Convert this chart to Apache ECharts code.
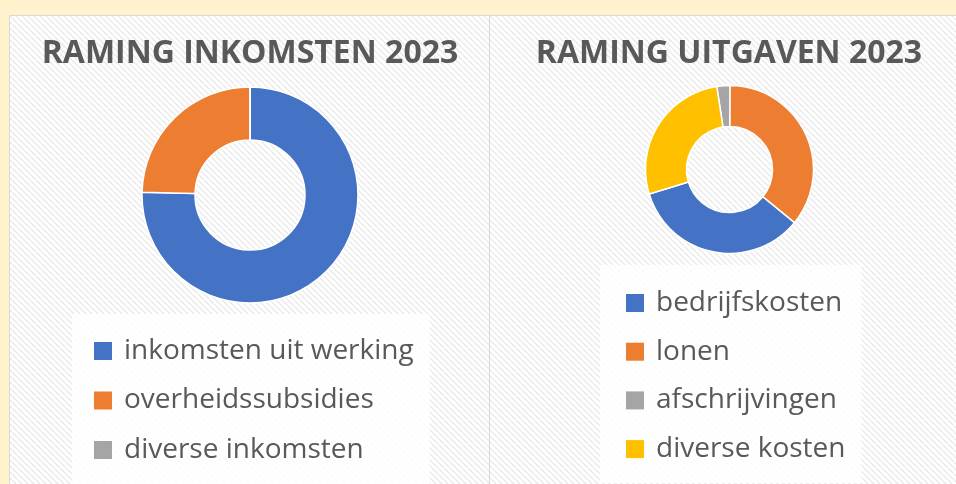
<!DOCTYPE html>
<html>
<head>
<meta charset="utf-8">
<script src="https://cdn.jsdelivr.net/npm/echarts@6/dist/echarts.min.js"></script>
<style>
  html, body { margin: 0; padding: 0; background: #fff2cc; }
  #main { width: 956px; height: 484px; }
</style>
</head>
<body>
<div id="main"></div>
<script>
// data
var incomeTitle = 'RAMING INKOMSTEN 2023'
var incomeNames = ['inkomsten uit werking', 'overheidssubsidies', 'diverse inkomsten']
var incomeValues = [75.4, 24.6, 0]

var costTitle = 'RAMING UITGAVEN 2023'
var costNames = ['bedrijfskosten', 'lonen', 'afschrijvingen', 'diverse kosten']
var costValues = [34.4, 35.8, 2.5, 27.3]

var colors = ['#4472c4', '#ed7d31', '#a5a5a5', '#ffc000']

// striped background tile
function stripeTile() {
    var s = 6
    var c = document.createElement( 'canvas' )
    c.width = s; c.height = s
    var ctx = c.getContext( '2d' )
    ctx.fillStyle = '#ffffff'
    ctx.fillRect( 0, 0, s, s )
    ctx.strokeStyle = '#ececec'
    ctx.lineWidth = 1.6
    for ( var o = -s; o <= s; o += s ) {
        ctx.beginPath()
        ctx.moveTo( o, 0 )
        ctx.lineTo( o + s, s )
        ctx.stroke()
    }
    return c
}
var tile = stripeTile()

function pairs( names, values ) {
    var out = []
    for ( var i = 0; i < names.length; i++ ) {
        out.push( { name: names[i], value: values[i], itemStyle: { color: colors[i] } } )
    }
    return out
}

var font = '"Open Sans", "DejaVu Sans", sans-serif'
var titleStyle = { fontFamily: font, fontWeight: 'bold', fontSize: 32, lineHeight: 40, color: '#595959' }
var legendText = { fontFamily: font, fontSize: 28, lineHeight: 26, color: '#595959', padding: [0, 0, 0, 7] }

var option = {
    backgroundColor: '#fff2cc',
    animation: false,
    graphic: [
        { type: 'rect', z: -10, shape: { x: 9.5, y: 15.5, width: 480, height: 480 },
          style: { fill: { image: tile, repeat: 'repeat' }, stroke: '#d9d9d9', lineWidth: 1 } },
        { type: 'rect', z: -10, shape: { x: 489.5, y: 15.5, width: 480, height: 480 },
          style: { fill: { image: tile, repeat: 'repeat' }, stroke: '#d9d9d9', lineWidth: 1 } }
    ],
    title: [{
        text: incomeTitle,
        left: 250,
        top: 34,
        textAlign: 'center',
        padding: 0,
        textStyle: titleStyle
    }, {
        text: costTitle,
        left: 729,
        top: 34,
        textAlign: 'center',
        padding: 0,
        textStyle: titleStyle
    }],
    legend: [{
        orient: 'vertical',
        left: 72,
        top: 314,
        height: 200,
        padding: [23, 16, 21, 22],
        backgroundColor: 'rgba(255,255,255,0.85)',
        icon: 'rect',
        itemWidth: 18,
        itemHeight: 18,
        itemGap: 21.5,
        itemStyle: { borderWidth: 0 },
        selectedMode: false,
        data: incomeNames,
        textStyle: legendText
    }, {
        orient: 'vertical',
        left: 600,
        top: 265,
        height: 220,
        padding: [24, 16, 20, 26],
        backgroundColor: 'rgba(255,255,255,0.85)',
        icon: 'rect',
        itemWidth: 18,
        itemHeight: 18,
        itemGap: 20.7,
        itemStyle: { borderWidth: 0 },
        selectedMode: false,
        data: costNames,
        textStyle: legendText
    }],
    series: [{
        name: 'inkomsten',
        type: 'pie',
        center: [250, 195],
        radius: [55, 108],
        startAngle: 90,
        clockwise: true,
        label: { show: false },
        labelLine: { show: false },
        emphasis: { disabled: true },
        itemStyle: { borderColor: '#ffffff', borderWidth: 1.5 },
        data: pairs( incomeNames, incomeValues )
    }, {
        name: 'uitgaven',
        type: 'pie',
        center: [729.5, 169.5],
        radius: [43, 84],
        startAngle: 197,
        clockwise: false,
        label: { show: false },
        labelLine: { show: false },
        emphasis: { disabled: true },
        itemStyle: { borderColor: '#ffffff', borderWidth: 1.5 },
        data: pairs( costNames, costValues )
    }]
}

var chart = echarts.init( document.getElementById( 'main' ), null, { renderer: 'canvas' } )
chart.setOption( option )
</script>
</body>
</html>
